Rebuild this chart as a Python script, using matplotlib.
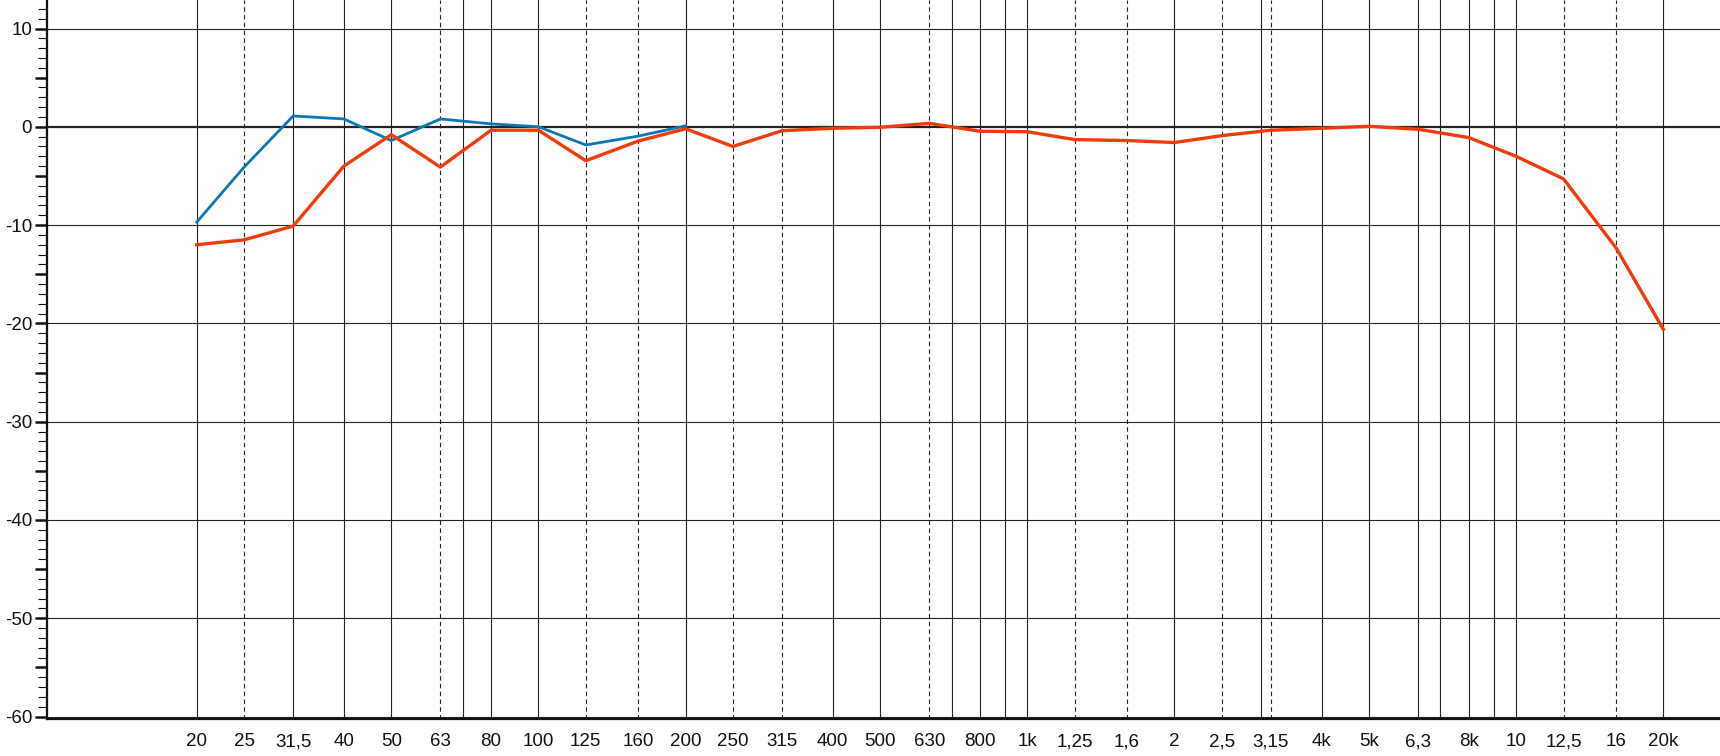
import matplotlib
matplotlib.use("Agg")
import matplotlib.pyplot as plt
from matplotlib.ticker import FixedLocator, FuncFormatter, NullLocator

plt.rcParams['font.family'] = ['Liberation Sans', 'DejaVu Sans']
plt.rcParams['axes.unicode_minus'] = False

# third-octave centre frequencies (Hz) and their axis labels
freqs = [20, 25, 31.5, 40, 50, 63, 80, 100, 125, 160, 200, 250, 315, 400, 500, 630,
         800, 1000, 1250, 1600, 2000, 2500, 3150, 4000, 5000, 6300, 8000, 10000,
         12500, 16000, 20000]
freq_labels = ["20", "25", "31,5", "40", "50", "63", "80", "100", "125", "160", "200",
               "250", "315", "400", "500", "630", "800", "1k", "1,25", "1,6", "2", "2,5",
               "3,15", "4k", "5k", "6,3", "8k", "10", "12,5", "16", "20k"]

# level in dB
red_db = [-12.0, -11.5, -10.1, -4.0, -0.8, -4.1, -0.35, -0.35, -3.45, -1.45, -0.2,
          -2.0, -0.4, -0.15, -0.05, 0.35, -0.45, -0.5, -1.3, -1.4, -1.6, -0.9, -0.35,
          -0.15, 0.05, -0.25, -1.1, -3.0, -5.3, -12.3, -20.6]
blue_freqs = freqs[:11]
blue_db = [-9.7, -4.1, 1.1, 0.8, -1.4, 0.8, 0.3, 0.0, -1.85, -0.95, 0.1]

# grid lines: solid, dashed, and extra unlabeled solid ones
solid_grid = [20, 31.5, 40, 50, 70, 80, 100, 200, 400, 500, 700, 800, 900, 1000, 2000,
              3000, 4000, 5000, 6300, 7000, 8000, 9000, 10000, 20000]
dashed_grid = [25, 63, 125, 160, 250, 315, 630, 1250, 1600, 2500, 3150, 12500, 16000]
db_grid = [10, 0, -10, -20, -30, -40, -50, -60]

fig = plt.figure(figsize=(17.2, 7.56), dpi=100)
ax = fig.add_axes([0.0272, 0.0485, 0.9728, 0.9515])

ax.set_xscale('log')
ax.set_xlim(9.87, 26120)
ax.set_ylim(-60.28, 12.9)

gc = '#222222'
for f in solid_grid:
    ax.axvline(f, color=gc, lw=0.8, zorder=1)
for f in dashed_grid:
    ax.axvline(f, color=gc, lw=0.8, ls=(0, (4, 3)), zorder=1)
for d in db_grid:
    ax.axhline(d, color=gc, lw=1.6 if d == 0 else 0.8, zorder=1)

ax.plot(blue_freqs, blue_db, color='#0a78b4', lw=2.0, zorder=3)
ax.plot(freqs, red_db, color='#f03c0a', lw=2.4, zorder=4)

# x axis
ax.xaxis.set_major_locator(FixedLocator(freqs))
ax.xaxis.set_minor_locator(NullLocator())
ax.set_xticklabels(freq_labels)
ax.tick_params(axis='x', length=0, pad=10, labelsize=13.5, colors='#111111')

# y axis: ticks every 5 dB (labels at 10s), minor every 1 dB
ax.yaxis.set_major_locator(FixedLocator(range(-60, 15, 5)))
ax.yaxis.set_minor_locator(FixedLocator(range(-60, 13, 1)))
ax.yaxis.set_major_formatter(FuncFormatter(lambda v, p: str(int(v)) if v % 10 == 0 else ''))
ax.tick_params(axis='y', which='major', length=8.6, width=1.8, pad=2, labelsize=13.5,
               colors='#111111', direction='out')
ax.tick_params(axis='y', which='minor', length=6.5, width=0.8, color='#111111',
               direction='out')

for s in ['top', 'right']:
    ax.spines[s].set_visible(False)
for s in ['left', 'bottom']:
    ax.spines[s].set_linewidth(1.6)
    ax.spines[s].set_color('#111111')

fig.savefig('out.png', dpi=100)
